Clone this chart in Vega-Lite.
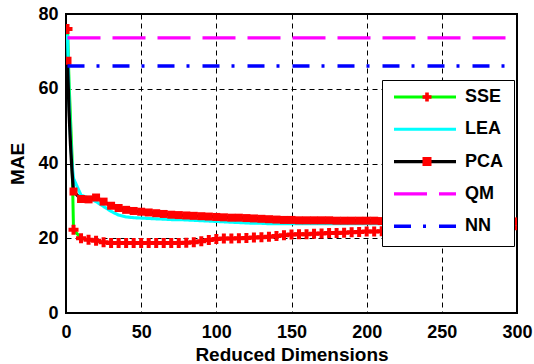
{
  "$schema": "https://vega.github.io/schema/vega-lite/v6.json",
  "width": 451,
  "height": 299,
  "autosize": {"type": "none"},
  "padding": {"left": 66, "top": 14, "right": 17, "bottom": 51},
  "background": "white",
  "config": {
    "view": {"stroke": "black", "strokeWidth": 2},
    "font": "Liberation Sans",
    "axis": {
      "domain": false,
      "ticks": false,
      "grid": true,
      "gridColor": "black",
      "gridDash": [5, 4],
      "gridWidth": 1,
      "gridOpacity": 1,
      "labelFont": "Liberation Sans",
      "labelFontSize": 18,
      "labelFontWeight": "bold",
      "labelColor": "black",
      "titleFont": "Liberation Sans",
      "titleFontSize": 19,
      "titleFontWeight": "bold",
      "titleColor": "black"
    }
  },
  "datasets": {
    "curves": [
      {"d": 1, "method": "SSE", "v": 76},
      {"d": 2, "method": "SSE", "v": 62},
      {"d": 3, "method": "SSE", "v": 52},
      {"d": 4, "method": "SSE", "v": 42},
      {"d": 5, "method": "SSE", "v": 22.3},
      {"d": 10, "method": "SSE", "v": 20},
      {"d": 15, "method": "SSE", "v": 19.6},
      {"d": 20, "method": "SSE", "v": 19.3},
      {"d": 25, "method": "SSE", "v": 18.9},
      {"d": 30, "method": "SSE", "v": 18.7},
      {"d": 35, "method": "SSE", "v": 18.7},
      {"d": 40, "method": "SSE", "v": 18.7},
      {"d": 45, "method": "SSE", "v": 18.7},
      {"d": 50, "method": "SSE", "v": 18.7},
      {"d": 55, "method": "SSE", "v": 18.7},
      {"d": 60, "method": "SSE", "v": 18.7},
      {"d": 65, "method": "SSE", "v": 18.7},
      {"d": 70, "method": "SSE", "v": 18.7},
      {"d": 75, "method": "SSE", "v": 18.7},
      {"d": 80, "method": "SSE", "v": 18.8},
      {"d": 85, "method": "SSE", "v": 18.9},
      {"d": 90, "method": "SSE", "v": 19.2},
      {"d": 95, "method": "SSE", "v": 19.5},
      {"d": 100, "method": "SSE", "v": 19.8},
      {"d": 105, "method": "SSE", "v": 19.9},
      {"d": 110, "method": "SSE", "v": 19.9},
      {"d": 115, "method": "SSE", "v": 20},
      {"d": 120, "method": "SSE", "v": 20.1},
      {"d": 125, "method": "SSE", "v": 20.2},
      {"d": 130, "method": "SSE", "v": 20.3},
      {"d": 135, "method": "SSE", "v": 20.4},
      {"d": 140, "method": "SSE", "v": 20.6},
      {"d": 145, "method": "SSE", "v": 20.8},
      {"d": 150, "method": "SSE", "v": 21.0},
      {"d": 155, "method": "SSE", "v": 21.1},
      {"d": 160, "method": "SSE", "v": 21.1},
      {"d": 165, "method": "SSE", "v": 21.2},
      {"d": 170, "method": "SSE", "v": 21.3},
      {"d": 175, "method": "SSE", "v": 21.4},
      {"d": 180, "method": "SSE", "v": 21.4},
      {"d": 185, "method": "SSE", "v": 21.5},
      {"d": 190, "method": "SSE", "v": 21.6},
      {"d": 195, "method": "SSE", "v": 21.7},
      {"d": 200, "method": "SSE", "v": 21.8},
      {"d": 205, "method": "SSE", "v": 21.8},
      {"d": 210, "method": "SSE", "v": 21.9},
      {"d": 215, "method": "SSE", "v": 22.0},
      {"d": 220, "method": "SSE", "v": 22.1},
      {"d": 225, "method": "SSE", "v": 22.2},
      {"d": 230, "method": "SSE", "v": 22.3},
      {"d": 235, "method": "SSE", "v": 22.3},
      {"d": 240, "method": "SSE", "v": 22.4},
      {"d": 245, "method": "SSE", "v": 22.5},
      {"d": 250, "method": "SSE", "v": 22.5},
      {"d": 255, "method": "SSE", "v": 22.6},
      {"d": 260, "method": "SSE", "v": 22.6},
      {"d": 265, "method": "SSE", "v": 22.7},
      {"d": 270, "method": "SSE", "v": 22.7},
      {"d": 275, "method": "SSE", "v": 22.8},
      {"d": 280, "method": "SSE", "v": 22.8},
      {"d": 285, "method": "SSE", "v": 22.9},
      {"d": 290, "method": "SSE", "v": 23.0},
      {"d": 295, "method": "SSE", "v": 23.2},
      {"d": 300, "method": "SSE", "v": 23.5},

      {"d": 1, "method": "LEA", "v": 74.5},
      {"d": 2, "method": "LEA", "v": 58},
      {"d": 3, "method": "LEA", "v": 47},
      {"d": 4, "method": "LEA", "v": 40},
      {"d": 5, "method": "LEA", "v": 36},
      {"d": 10, "method": "LEA", "v": 31.5},
      {"d": 15, "method": "LEA", "v": 30.8},
      {"d": 20, "method": "LEA", "v": 29.8},
      {"d": 25, "method": "LEA", "v": 28.5},
      {"d": 30, "method": "LEA", "v": 27.2},
      {"d": 35, "method": "LEA", "v": 26.2},
      {"d": 40, "method": "LEA", "v": 25.7},
      {"d": 45, "method": "LEA", "v": 25.5},
      {"d": 50, "method": "LEA", "v": 25.4},
      {"d": 55, "method": "LEA", "v": 25.3},
      {"d": 60, "method": "LEA", "v": 25.2},
      {"d": 65, "method": "LEA", "v": 25.1},
      {"d": 70, "method": "LEA", "v": 25.0},
      {"d": 75, "method": "LEA", "v": 25.0},
      {"d": 80, "method": "LEA", "v": 24.9},
      {"d": 85, "method": "LEA", "v": 24.8},
      {"d": 90, "method": "LEA", "v": 24.7},
      {"d": 95, "method": "LEA", "v": 24.6},
      {"d": 100, "method": "LEA", "v": 24.5},
      {"d": 105, "method": "LEA", "v": 24.4},
      {"d": 110, "method": "LEA", "v": 24.3},
      {"d": 115, "method": "LEA", "v": 24.2},
      {"d": 120, "method": "LEA", "v": 24.1},
      {"d": 125, "method": "LEA", "v": 24.0},
      {"d": 130, "method": "LEA", "v": 24.0},
      {"d": 135, "method": "LEA", "v": 23.9},
      {"d": 140, "method": "LEA", "v": 23.9},
      {"d": 145, "method": "LEA", "v": 23.9},
      {"d": 150, "method": "LEA", "v": 23.9},
      {"d": 155, "method": "LEA", "v": 23.9},
      {"d": 160, "method": "LEA", "v": 23.9},
      {"d": 165, "method": "LEA", "v": 23.9},
      {"d": 170, "method": "LEA", "v": 23.9},
      {"d": 175, "method": "LEA", "v": 23.9},
      {"d": 180, "method": "LEA", "v": 23.9},
      {"d": 185, "method": "LEA", "v": 23.9},
      {"d": 190, "method": "LEA", "v": 23.9},
      {"d": 195, "method": "LEA", "v": 23.9},
      {"d": 200, "method": "LEA", "v": 23.9},
      {"d": 205, "method": "LEA", "v": 23.9},
      {"d": 210, "method": "LEA", "v": 23.9},
      {"d": 215, "method": "LEA", "v": 23.9},
      {"d": 220, "method": "LEA", "v": 23.9},
      {"d": 225, "method": "LEA", "v": 23.9},
      {"d": 230, "method": "LEA", "v": 23.9},
      {"d": 235, "method": "LEA", "v": 23.9},
      {"d": 240, "method": "LEA", "v": 23.9},
      {"d": 245, "method": "LEA", "v": 23.9},
      {"d": 250, "method": "LEA", "v": 23.9},
      {"d": 255, "method": "LEA", "v": 23.9},
      {"d": 260, "method": "LEA", "v": 23.9},
      {"d": 265, "method": "LEA", "v": 23.9},
      {"d": 270, "method": "LEA", "v": 23.9},
      {"d": 275, "method": "LEA", "v": 23.9},
      {"d": 280, "method": "LEA", "v": 23.9},
      {"d": 285, "method": "LEA", "v": 23.9},
      {"d": 290, "method": "LEA", "v": 23.9},
      {"d": 295, "method": "LEA", "v": 23.9},
      {"d": 300, "method": "LEA", "v": 23.9},

      {"d": 1, "method": "PCA", "v": 67.5},
      {"d": 2, "method": "PCA", "v": 54},
      {"d": 3, "method": "PCA", "v": 45},
      {"d": 4, "method": "PCA", "v": 38},
      {"d": 5, "method": "PCA", "v": 32.5},
      {"d": 10, "method": "PCA", "v": 30.5},
      {"d": 15, "method": "PCA", "v": 30.4},
      {"d": 20, "method": "PCA", "v": 30.9},
      {"d": 25, "method": "PCA", "v": 29.8},
      {"d": 30, "method": "PCA", "v": 28.7},
      {"d": 35, "method": "PCA", "v": 28.1},
      {"d": 40, "method": "PCA", "v": 27.6},
      {"d": 45, "method": "PCA", "v": 27.3},
      {"d": 50, "method": "PCA", "v": 27.1},
      {"d": 55, "method": "PCA", "v": 26.9},
      {"d": 60, "method": "PCA", "v": 26.7},
      {"d": 65, "method": "PCA", "v": 26.5},
      {"d": 70, "method": "PCA", "v": 26.3},
      {"d": 75, "method": "PCA", "v": 26.2},
      {"d": 80, "method": "PCA", "v": 26.1},
      {"d": 85, "method": "PCA", "v": 26.0},
      {"d": 90, "method": "PCA", "v": 25.9},
      {"d": 95, "method": "PCA", "v": 25.8},
      {"d": 100, "method": "PCA", "v": 25.7},
      {"d": 105, "method": "PCA", "v": 25.6},
      {"d": 110, "method": "PCA", "v": 25.5},
      {"d": 115, "method": "PCA", "v": 25.5},
      {"d": 120, "method": "PCA", "v": 25.4},
      {"d": 125, "method": "PCA", "v": 25.3},
      {"d": 130, "method": "PCA", "v": 25.2},
      {"d": 135, "method": "PCA", "v": 25.1},
      {"d": 140, "method": "PCA", "v": 25.0},
      {"d": 145, "method": "PCA", "v": 24.9},
      {"d": 150, "method": "PCA", "v": 24.9},
      {"d": 155, "method": "PCA", "v": 24.8},
      {"d": 160, "method": "PCA", "v": 24.8},
      {"d": 165, "method": "PCA", "v": 24.8},
      {"d": 170, "method": "PCA", "v": 24.8},
      {"d": 175, "method": "PCA", "v": 24.8},
      {"d": 180, "method": "PCA", "v": 24.7},
      {"d": 185, "method": "PCA", "v": 24.7},
      {"d": 190, "method": "PCA", "v": 24.7},
      {"d": 195, "method": "PCA", "v": 24.7},
      {"d": 200, "method": "PCA", "v": 24.7},
      {"d": 205, "method": "PCA", "v": 24.7},
      {"d": 210, "method": "PCA", "v": 24.6},
      {"d": 215, "method": "PCA", "v": 24.6},
      {"d": 220, "method": "PCA", "v": 24.6},
      {"d": 225, "method": "PCA", "v": 24.6},
      {"d": 230, "method": "PCA", "v": 24.6},
      {"d": 235, "method": "PCA", "v": 24.6},
      {"d": 240, "method": "PCA", "v": 24.6},
      {"d": 245, "method": "PCA", "v": 24.5},
      {"d": 250, "method": "PCA", "v": 24.5},
      {"d": 255, "method": "PCA", "v": 24.5},
      {"d": 260, "method": "PCA", "v": 24.5},
      {"d": 265, "method": "PCA", "v": 24.5},
      {"d": 270, "method": "PCA", "v": 24.5},
      {"d": 275, "method": "PCA", "v": 24.5},
      {"d": 280, "method": "PCA", "v": 24.5},
      {"d": 285, "method": "PCA", "v": 24.5},
      {"d": 290, "method": "PCA", "v": 24.5},
      {"d": 295, "method": "PCA", "v": 24.5},
      {"d": 300, "method": "PCA", "v": 24.5},

      {"d": 1, "method": "QM", "v": 73.6},
      {"d": 300, "method": "QM", "v": 73.6},
      {"d": 1, "method": "NN", "v": 66.1},
      {"d": 300, "method": "NN", "v": 66.1}
    ]
  },
  "data": {"name": "curves"},
  "encoding": {
    "x": {
      "field": "d", "type": "quantitative",
      "scale": {"domain": [0, 300], "nice": false},
      "axis": {"values": [0, 50, 100, 150, 200, 250, 300], "title": "Reduced Dimensions", "labelPadding": 10, "titlePadding": 4, "labelFlush": false}
    },
    "y": {
      "field": "v", "type": "quantitative",
      "scale": {"domain": [0, 80], "nice": false},
      "axis": {"values": [0, 20, 40, 60, 80], "title": "MAE", "labelPadding": 8, "titlePadding": 10}
    }
  },
  "layer": [
    {
      "transform": [{"filter": "datum.method == 'SSE'"}],
      "mark": {"type": "line", "clip": true},
      "encoding": {
        "color": {"field": "method", "type": "nominal",
          "scale": {"domain": ["SSE", "LEA", "PCA", "QM", "NN"], "range": ["#00ff00", "#00ffff", "#000000", "#ff00ff", "#0000ff"]},
          "legend": {
            "orient": "none", "legendX": 316, "legendY": 66, "title": null,
            "symbolType": "stroke", "symbolSize": 3844, "symbolStrokeWidth": 3,
            "clipHeight": 14, "rowPadding": 14.3,
            "labelFontSize": 18, "labelFontWeight": "bold", "labelColor": "black", "labelFont": "Liberation Sans",
            "fillColor": "white", "strokeColor": "black", "padding": 10, "labelOffset": 7
          }
        },
        "strokeDash": {"field": "method", "type": "nominal",
          "scale": {"domain": ["SSE", "LEA", "PCA", "QM", "NN"], "range": [[1, 0], [1, 0], [1, 0], [33, 12], [17, 12, 3, 13]]}
        },
        "strokeWidth": {"field": "method", "type": "nominal",
          "scale": {"domain": ["SSE", "LEA", "PCA", "QM", "NN"], "range": [3, 3.5, 3, 1.5, 1.5]}
        }
      }
    },
    {
      "transform": [{"filter": "datum.method == 'SSE' && (datum.d == 1 || datum.d % 5 == 0)"}],
      "mark": {"type": "point", "filled": true, "color": "#ff0000", "size": 100, "opacity": 1, "clip": true},
      "encoding": {
        "shape": {"field": "method", "type": "nominal",
          "scale": {"domain": ["SSE", "LEA", "PCA", "QM", "NN", " "], "range": ["cross", "M0,0Z", "square", "M0,0Z", "M0,0Z", "M0,0Z"]},
          "legend": {
            "orient": "none", "legendX": 316, "legendY": 66, "title": null,
            "symbolSize": 81, "symbolOffset": 26, "symbolFillColor": "#ff0000", "symbolStrokeWidth": 0,
            "clipHeight": 14, "rowPadding": 14.3,
            "labelFontSize": 18, "labelExpr": "''",
            "fillColor": null, "strokeColor": null, "padding": 10, "labelOffset": 7
          }
        }
      }
    },
    {
      "transform": [{"filter": "datum.method == 'LEA'"}],
      "mark": {"type": "line", "clip": true},
      "encoding": {
        "color": {"field": "method", "type": "nominal"},
        "strokeDash": {"field": "method", "type": "nominal"},
        "strokeWidth": {"field": "method", "type": "nominal"}
      }
    },
    {
      "transform": [{"filter": "datum.method == 'PCA'"}],
      "mark": {"type": "line", "clip": true},
      "encoding": {
        "color": {"field": "method", "type": "nominal"},
        "strokeDash": {"field": "method", "type": "nominal"},
        "strokeWidth": {"field": "method", "type": "nominal"}
      }
    },
    {
      "transform": [{"filter": "datum.method == 'PCA' && (datum.d == 1 || datum.d % 5 == 0)"}],
      "mark": {"type": "point", "filled": true, "color": "#ff0000", "size": 64, "opacity": 1, "clip": true},
      "encoding": {
        "shape": {"field": "method", "type": "nominal"}
      }
    },
    {
      "transform": [{"filter": "datum.method == 'QM' || datum.method == 'NN'"}],
      "mark": {"type": "line", "clip": true},
      "encoding": {
        "color": {"field": "method", "type": "nominal"},
        "strokeDash": {"field": "method", "type": "nominal"},
        "strokeWidth": {"field": "method", "type": "nominal"}
      }
    }
  ]
}
